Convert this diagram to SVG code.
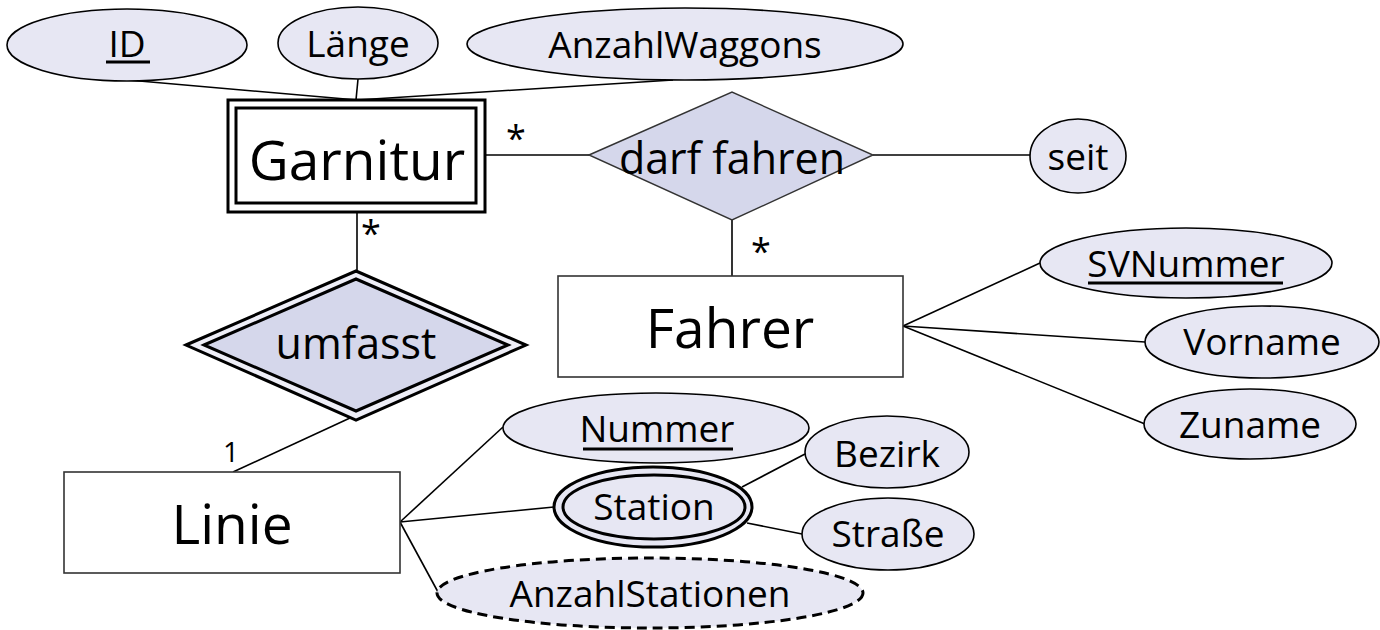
<svg xmlns="http://www.w3.org/2000/svg" width="1380" height="630" viewBox="0 0 1380 630">
<style>
text{font-family:"Open Sans","Noto Sans",sans-serif;fill:#000;text-anchor:middle}
.ent{font-size:55px}
.rel{font-size:43px}
.att{font-size:37px}
.card{font-size:36px}
.attr{fill:#e7e7f3;stroke:#000;stroke-width:1.6}
.rect{fill:#fff;stroke:#333;stroke-width:1.6}
.dia{fill:#d5d7eb;stroke:#333;stroke-width:1.4}
.ln{stroke:#000;stroke-width:1.6;fill:none}
.ul{stroke:#000;stroke-width:3}
</style>
<rect width="1380" height="630" fill="#fff"/>
<g id="connectors">
<line class="ln" x1="128" y1="80" x2="357" y2="100"/>
<line class="ln" x1="358" y1="79" x2="356" y2="100"/>
<line class="ln" x1="673" y1="80" x2="357" y2="100"/>
<line class="ln" x1="485" y1="155" x2="589" y2="155"/>
<line class="ln" x1="873" y1="155" x2="1030" y2="155"/>
<line class="ln" x1="732" y1="220" x2="732" y2="276"/>
<line class="ln" x1="903" y1="326" x2="1040" y2="263"/>
<line class="ln" x1="903" y1="326" x2="1145" y2="342"/>
<line class="ln" x1="903" y1="326" x2="1145" y2="424"/>
<line class="ln" x1="357" y1="212" x2="357" y2="271"/>
<line class="ln" x1="350" y1="418" x2="233" y2="472"/>
<line class="ln" x1="400" y1="522" x2="503" y2="427"/>
<line class="ln" x1="400" y1="522" x2="554" y2="507"/>
<line class="ln" x1="400" y1="522" x2="438" y2="592"/>
<line class="ln" x1="742" y1="487" x2="805" y2="454"/>
<line class="ln" x1="747" y1="523" x2="802" y2="534"/>
<text class="card" x="516" y="151">*</text>
<text class="card" x="371" y="246">*</text>
<text class="card" x="761" y="264">*</text>
<text class="card" x="231" y="462" style="font-size:28px">1</text>
</g>
<g id="attr-id">
<ellipse class="attr" cx="127" cy="45" rx="120" ry="36"/>
<text class="att" x="127" y="57">ID</text>
<line class="ul" x1="106" y1="62" x2="150" y2="62"/>
</g>
<g id="attr-laenge">
<ellipse class="attr" cx="358" cy="43" rx="80" ry="36"/>
<text class="att" x="358" y="57">Länge</text>
</g>
<g id="attr-anzahlwaggons">
<ellipse class="attr" cx="685" cy="44" rx="218" ry="36"/>
<text class="att" x="685" y="58">AnzahlWaggons</text>
</g>
<g id="garnitur">
<rect x="228" y="100" width="257" height="112" fill="#fff" stroke="#000" stroke-width="3"/>
<rect x="236" y="108" width="240" height="95" fill="none" stroke="#000" stroke-width="3"/>
<text class="ent" x="357" y="180">Garnitur</text>
</g>
<g id="darf-fahren">
<polygon class="dia" points="589,155 732,92 873,155 732,220"/>
<text class="rel" x="732" y="174">darf fahren</text>
</g>
<g id="attr-seit">
<ellipse class="attr" cx="1078" cy="156" rx="48" ry="37"/>
<text class="att" x="1078" y="170">seit</text>
</g>
<g id="fahrer">
<rect class="rect" x="558" y="276" width="345" height="101"/>
<text class="ent" x="730" y="348">Fahrer</text>
</g>
<g id="attr-svnummer">
<ellipse class="attr" cx="1186" cy="263" rx="146" ry="35"/>
<text class="att" x="1186" y="277">SVNummer</text>
<line class="ul" x1="1088" y1="283" x2="1283" y2="283"/>
</g>
<g id="attr-vorname">
<ellipse class="attr" cx="1262" cy="342" rx="117" ry="36"/>
<text class="att" x="1262" y="355">Vorname</text>
</g>
<g id="attr-zuname">
<ellipse class="attr" cx="1250" cy="424" rx="106" ry="35"/>
<text class="att" x="1250" y="438">Zuname</text>
</g>
<g id="umfasst">
<polygon points="186,345 356,271 526,345 356,420" fill="#eeeef7" stroke="#000" stroke-width="3"/>
<polygon points="204,345 356,279 508,345 356,411" fill="#d5d7eb" stroke="#000" stroke-width="3"/>
<text class="rel" x="356" y="359">umfasst</text>
</g>
<g id="linie">
<rect class="rect" x="64" y="472" width="336" height="101"/>
<text class="ent" x="232" y="544">Linie</text>
</g>
<g id="attr-nummer">
<ellipse class="attr" cx="656" cy="428" rx="153" ry="35"/>
<text class="att" x="657" y="442">Nummer</text>
<line class="ul" x1="583" y1="449" x2="733" y2="449"/>
</g>
<g id="attr-station">
<ellipse cx="653" cy="507" rx="99" ry="40" fill="#e7e7f3" stroke="#000" stroke-width="3"/>
<ellipse cx="654" cy="507" rx="91" ry="32" fill="none" stroke="#000" stroke-width="3"/>
<text class="att" x="654" y="520">Station</text>
</g>
<g id="attr-bezirk">
<ellipse class="attr" cx="887" cy="452" rx="82" ry="36"/>
<text class="att" x="887" y="467">Bezirk</text>
</g>
<g id="attr-strasse">
<ellipse class="attr" cx="888" cy="534" rx="86" ry="36"/>
<text class="att" x="888" y="547">Straße</text>
</g>
<g id="attr-anzahlstationen">
<ellipse cx="650" cy="593" rx="213" ry="35" fill="#e7e7f3" stroke="#000" stroke-width="3" stroke-dasharray="10,6"/>
<text class="att" x="650" y="607">AnzahlStationen</text>
</g>
</svg>
